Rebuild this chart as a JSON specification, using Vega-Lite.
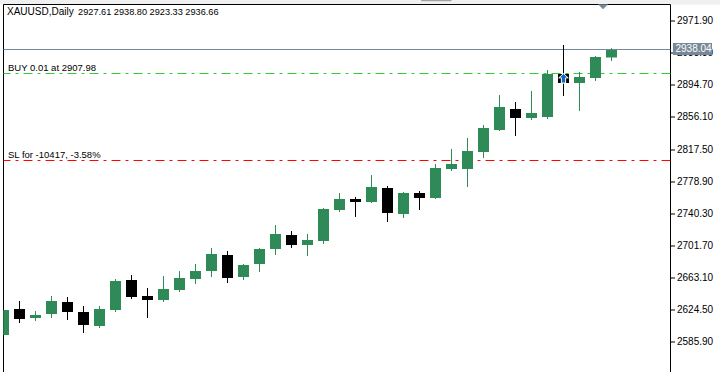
{"$schema":"https://vega.github.io/schema/vega-lite/v6.json","width":667,"height":368,"autosize":"none","padding":{"left":3.5,"top":4.5,"right":49.5,"bottom":0},"background":"white","config":{"view":{"stroke":null},"text":{"font":"Liberation Sans"},"axis":{"labelFont":"Liberation Sans"}},
"datasets":{"candles":[
{"day":0,"open":2594.0,"high":2624.1,"low":2594.0,"close":2624.1,"dir":"up"},
{"day":1,"open":2625.3,"high":2634.9,"low":2608.4,"close":2613.3,"dir":"down"},
{"day":2,"open":2614.4,"high":2622.9,"low":2610.8,"close":2618.1,"dir":"up"},
{"day":3,"open":2619.3,"high":2640.9,"low":2614.4,"close":2634.9,"dir":"up"},
{"day":4,"open":2633.7,"high":2639.7,"low":2612.1,"close":2621.7,"dir":"down"},
{"day":5,"open":2621.7,"high":2628.9,"low":2596.4,"close":2606.0,"dir":"down"},
{"day":6,"open":2604.8,"high":2628.9,"low":2602.4,"close":2625.3,"dir":"up"},
{"day":7,"open":2624.1,"high":2661.3,"low":2621.7,"close":2658.9,"dir":"up"},
{"day":8,"open":2660.1,"high":2666.1,"low":2637.3,"close":2639.7,"dir":"down"},
{"day":9,"open":2640.9,"high":2650.5,"low":2614.4,"close":2636.1,"dir":"down"},
{"day":10,"open":2636.1,"high":2664.9,"low":2633.7,"close":2649.3,"dir":"up"},
{"day":11,"open":2648.1,"high":2670.9,"low":2645.7,"close":2662.5,"dir":"up"},
{"day":12,"open":2661.3,"high":2679.4,"low":2655.3,"close":2670.9,"dir":"up"},
{"day":13,"open":2670.9,"high":2698.6,"low":2663.7,"close":2691.4,"dir":"up"},
{"day":14,"open":2690.2,"high":2695.0,"low":2656.5,"close":2662.5,"dir":"down"},
{"day":15,"open":2663.7,"high":2679.4,"low":2660.1,"close":2678.2,"dir":"up"},
{"day":16,"open":2679.4,"high":2698.6,"low":2669.7,"close":2697.4,"dir":"up"},
{"day":17,"open":2697.4,"high":2726.2,"low":2690.2,"close":2715.4,"dir":"up"},
{"day":18,"open":2714.2,"high":2719.0,"low":2698.6,"close":2702.2,"dir":"down"},
{"day":19,"open":2702.2,"high":2715.4,"low":2689.0,"close":2708.2,"dir":"up"},
{"day":20,"open":2707.0,"high":2746.7,"low":2703.4,"close":2745.5,"dir":"up"},
{"day":21,"open":2744.3,"high":2764.7,"low":2741.9,"close":2757.5,"dir":"up"},
{"day":22,"open":2757.5,"high":2759.9,"low":2735.9,"close":2753.9,"dir":"down"},
{"day":23,"open":2753.9,"high":2786.3,"low":2752.7,"close":2771.9,"dir":"up"},
{"day":24,"open":2770.7,"high":2773.1,"low":2729.8,"close":2740.7,"dir":"down"},
{"day":25,"open":2739.5,"high":2765.9,"low":2734.7,"close":2764.7,"dir":"up"},
{"day":26,"open":2764.7,"high":2767.1,"low":2744.3,"close":2758.7,"dir":"down"},
{"day":27,"open":2758.7,"high":2799.6,"low":2757.5,"close":2794.7,"dir":"up"},
{"day":28,"open":2793.5,"high":2817.6,"low":2791.1,"close":2799.6,"dir":"up"},
{"day":29,"open":2793.5,"high":2830.8,"low":2771.9,"close":2815.2,"dir":"up"},
{"day":30,"open":2814.0,"high":2846.4,"low":2806.8,"close":2842.8,"dir":"up"},
{"day":31,"open":2840.4,"high":2882.5,"low":2839.2,"close":2868.1,"dir":"up"},
{"day":32,"open":2865.7,"high":2874.1,"low":2833.2,"close":2854.8,"dir":"down"},
{"day":33,"open":2854.8,"high":2887.3,"low":2852.4,"close":2860.8,"dir":"up"},
{"day":34,"open":2856.0,"high":2912.5,"low":2853.6,"close":2907.7,"dir":"up"},
{"day":35,"open":2907.7,"high":2942.6,"low":2881.3,"close":2896.9,"dir":"down"},
{"day":36,"open":2896.9,"high":2910.1,"low":2863.3,"close":2904.1,"dir":"up"},
{"day":37,"open":2902.9,"high":2929.4,"low":2899.3,"close":2928.2,"dir":"up"},
{"day":38,"open":2927.61,"high":2938.8,"low":2923.33,"close":2936.66,"dir":"up"}
]},
"encoding":{"x":{"type":"quantitative","scale":{"domain":[0,41.6875],"nice":false,"zero":false,"padding":0},"axis":null},"y":{"type":"quantitative","scale":{"domain":[2548.95,2991.25],"nice":false,"zero":false,"padding":0},"axis":{"orient":"right","title":null,"grid":false,"domain":false,"values":[2971.9,2933.3,2894.7,2856.1,2817.5,2778.9,2740.3,2701.7,2663.1,2624.5,2585.9],"format":".2f","labelFontSize":10,"labelColor":"black","tickColor":"black","tickSize":4,"labelPadding":2,"labelFlush":false,"labelOverlap":false}}},
"layer":[
{"data":{"values":[{"a":-0.22,"b":45,"p":2991.25,"q":2996.66}]},"mark":{"type":"rect","clip":false,"fill":"#f0f0f0"},"encoding":{"x":{"field":"a"},"x2":{"field":"b"},"y":{"field":"p"},"y2":{"field":"q"}}},
{"data":{"values":[{"a":26.1,"b":28,"p":2995.2,"q":2996.66}]},"mark":{"type":"rect","clip":false,"fill":"#a0a0a0"},"encoding":{"x":{"field":"a"},"x2":{"field":"b"},"y":{"field":"p"},"y2":{"field":"q"}}},
{"data":{"values":[{"day":0},{"day":41.6875}]},"mark":{"type":"rule","strokeWidth":1,"stroke":"black"},"encoding":{"x":{"field":"day"}}},
{"data":{"values":[{"level":2991.25}]},"mark":{"type":"rule","strokeWidth":1,"stroke":"black"},"encoding":{"y":{"field":"level"}}},
{"data":{"values":[{"level":2937.16}]},"mark":{"type":"rule","strokeWidth":1,"stroke":"#778899"},"encoding":{"y":{"field":"level"}}},
{"data":{"values":[{"level":2908.32}]},"mark":{"type":"rule","strokeWidth":1,"stroke":"#32cd32","strokeDash":[9,5,3,5]},"encoding":{"y":{"field":"level"}}},
{"data":{"values":[{"level":2803.76}]},"mark":{"type":"rule","strokeWidth":1,"stroke":"#ff0000","strokeDash":[9,5,3,5]},"encoding":{"y":{"field":"level"}}},
{"data":{"name":"candles"},"transform":[{"filter":"datum.dir=='up'"}],"mark":{"type":"rule","strokeWidth":1,"clip":true,"stroke":"#2e8b57"},"encoding":{"x":{"field":"day"},"y":{"field":"low"},"y2":{"field":"high"}}},
{"data":{"name":"candles"},"transform":[{"filter":"datum.dir=='down'"}],"mark":{"type":"rule","strokeWidth":1,"clip":true,"stroke":"#000000"},"encoding":{"x":{"field":"day"},"y":{"field":"low"},"y2":{"field":"high"}}},
{"data":{"name":"candles"},"transform":[{"filter":"datum.dir=='up'"}],"mark":{"type":"bar","size":11,"clip":true,"fill":"#2e8b57"},"encoding":{"x":{"field":"day"},"y":{"field":"open"},"y2":{"field":"close"}}},
{"data":{"name":"candles"},"transform":[{"filter":"datum.dir=='down'"}],"mark":{"type":"bar","size":11,"clip":true,"fill":"#000000"},"encoding":{"x":{"field":"day"},"y":{"field":"open"},"y2":{"field":"close"}}},
{"data":{"values":[{"day":35,"price":2902.5}]},"mark":{"type":"point","filled":true,"shape":"M0,-1L1,-0.1L0.45,-0.1L0.45,1L-0.45,1L-0.45,-0.1L-1,-0.1Z","size":90,"fill":"#0a6cc8","stroke":"white","strokeWidth":1,"opacity":1},"encoding":{"x":{"field":"day"},"y":{"field":"price"}}},
{"data":{"values":[{"day":37.47,"price":2988.6}]},"mark":{"type":"point","filled":true,"shape":"M-1,-0.5L1,-0.5L0,0.5Z","size":100,"fill":"#778899","opacity":1,"clip":false},"encoding":{"x":{"field":"day"},"y":{"field":"price"}}},
{"data":{"values":[{"a":41.84,"b":44.28,"p":2944.98,"q":2930.6}]},"mark":{"type":"rect","fill":"#778899","clip":false},"encoding":{"x":{"field":"a"},"x2":{"field":"b"},"y":{"field":"p"},"y2":{"field":"q"}}},
{"data":{"values":[{"day":42.0,"price":2937.8,"label":"2938.04"}]},"mark":{"type":"text","align":"left","baseline":"middle","fontSize":10,"color":"white","clip":false},"encoding":{"x":{"field":"day"},"y":{"field":"price"},"text":{"field":"label"}}},
{"data":{"values":[{"day":0.22,"price":2982.2,"label":"XAUUSD,Daily"}]},"mark":{"type":"text","align":"left","baseline":"middle","fontSize":10,"color":"black"},"encoding":{"x":{"field":"day"},"y":{"field":"price"},"text":{"field":"label"}}},
{"data":{"values":[{"day":4.66,"price":2982.2,"label":"2927.61 2938.80 2923.33 2936.66"}]},"mark":{"type":"text","align":"left","baseline":"middle","fontSize":9.2,"color":"black"},"encoding":{"x":{"field":"day"},"y":{"field":"price"},"text":{"field":"label"}}},
{"data":{"values":[{"day":0.28,"price":2915.5,"label":"BUY 0.01 at 2907.98"},{"day":0.28,"price":2810.9,"label":"SL for -10417, -3.58%"}]},"mark":{"type":"text","align":"left","baseline":"middle","fontSize":9.5,"color":"black"},"encoding":{"x":{"field":"day"},"y":{"field":"price"},"text":{"field":"label"}}}
]}
